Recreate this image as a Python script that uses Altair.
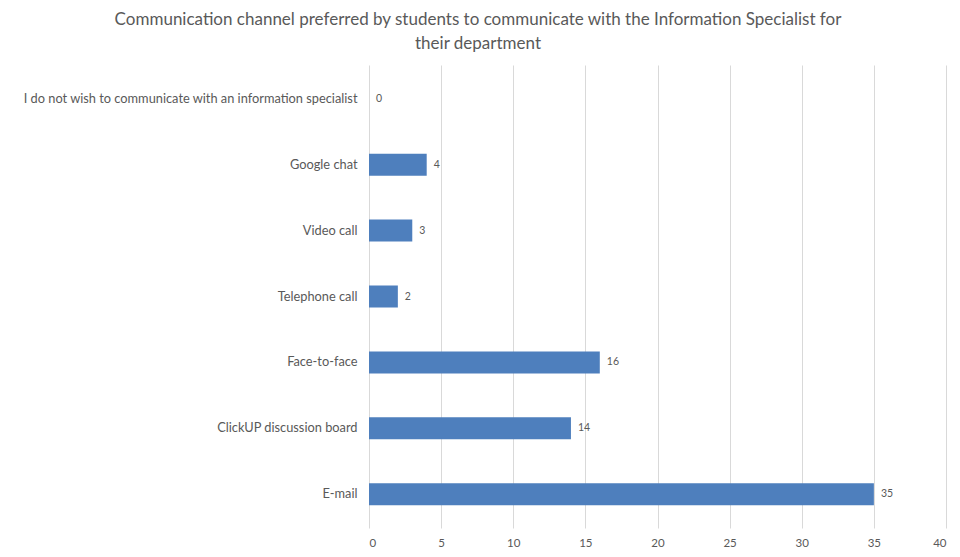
import altair as alt
import pandas as pd

categories = [
    "I do not wish to communicate with an information specialist",
    "Google chat",
    "Video call",
    "Telephone call",
    "Face-to-face",
    "ClickUP discussion board",
    "E-mail",
]
values = [0, 4, 3, 2, 16, 14, 35]
x_ticks = [0, 5, 10, 15, 20, 25, 30, 35, 40]

df = pd.DataFrame({"channel": categories, "count": values})

GRAY = "#595959"
FONT = "Lato"

y_enc = alt.Y(
    "channel:N",
    sort=categories,
    title=None,
    scale=alt.Scale(paddingInner=0.666, paddingOuter=0.346),
    axis=alt.Axis(domain=False, ticks=False, labelPadding=12, labelFontSize=12.8,
                  labelColor=GRAY, labelFont=FONT, labelLimit=400),
)
x_enc = alt.X(
    "count:Q",
    title=None,
    scale=alt.Scale(domain=[0, 40], nice=False),
    axis=alt.Axis(values=x_ticks, domain=False, ticks=False, labelPadding=9,
                  labelFontSize=11.5, labelColor=GRAY, labelFont=FONT,
                  grid=True, gridColor="#d9d9d9"),
)

bars = alt.Chart(df).mark_bar(color="#4E7FBD").encode(x=x_enc, y=y_enc)
labels = alt.Chart(df).mark_text(align="left", baseline="middle", dx=7,
                                 fontSize=10.5, color=GRAY, font=FONT).encode(
    x="count:Q", y=alt.Y("channel:N", sort=categories), text="count:Q"
)

chart = (bars + labels).properties(
    width=577,
    height=463,
    title=alt.Title(
        text=["Communication channel preferred by students to communicate with the Information Specialist for",
              "their department"],
        fontSize=17, font=FONT, color=GRAY, fontWeight="normal",
        anchor="middle", dx=-179.5, offset=12, lineHeight=24,
    ),
    autosize=alt.AutoSizeParams(type="none"),
    padding={"left": 361, "top": 57, "right": 6, "bottom": 20},
).configure(background="white").configure_view(stroke=None)

chart.save("out.html", embed_options={"renderer": "svg", "actions": False})
